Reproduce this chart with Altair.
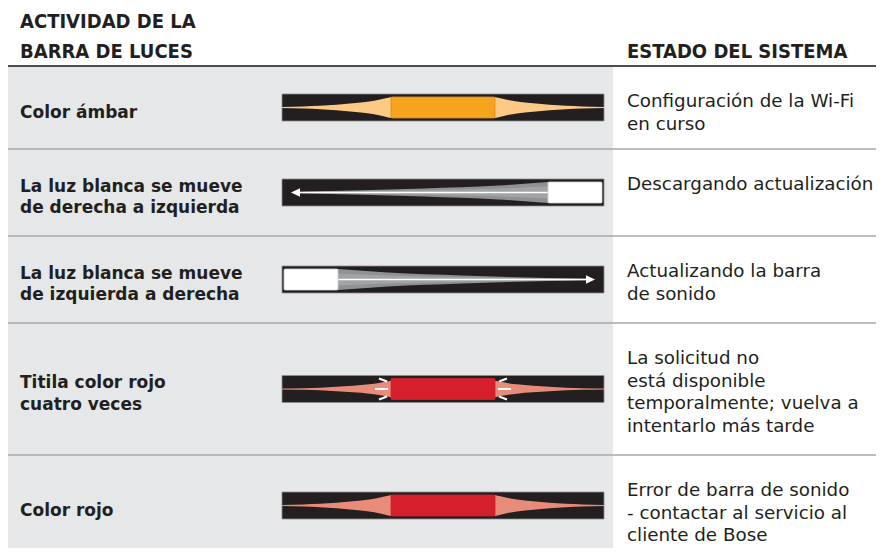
import altair as alt
import pandas as pd

# ---------------- content ----------------
header_left = ["ACTIVIDAD DE LA", "BARRA DE LUCES"]
header_right = ["ESTADO DEL SISTEMA"]
activities = [
    ["Color ámbar"],
    ["La luz blanca se mueve", "de derecha a izquierda"],
    ["La luz blanca se mueve", "de izquierda a derecha"],
    ["Titila color rojo", "cuatro veces"],
    ["Color rojo"],
]
states = [
    ["Configuración de la Wi-Fi", "en curso"],
    ["Descargando actualización"],
    ["Actualizando la barra", "de sonido"],
    ["La solicitud no", "está disponible", "temporalmente; vuelva a", "intentarlo más tarde"],
    ["Error de barra de sonido", "- contactar al servicio al", "cliente de Bose"],
]
patterns = ["glow", "sweep_left", "sweep_right", "blink", "glow"]
core_colors = ["#f6a31e", "#ffffff", "#ffffff", "#d51f2c", "#d51f2c"]
core_strokes = ["#e08c12", "#d0d0d0", "#d0d0d0", "#d51f2c", "#d51f2c"]
halo_colors = ["#fdca86", "#909194", "#909194", "#e98b79", "#e98b79"]
inner_halo_color = "#a2a3a5"

# ---------------- layout (pixels of the 884x556 picture) ----------------
X_LEFT, X_SPLIT, X_RIGHT = 7, 613, 876
Y_BOTTOM = 548
row_edges = [66, 149, 236, 323, 455, 556]
BAR_X0, BAR_X1, BAR_H = 282, 604, 27
CORE_X0, CORE_X1, CORE_H = 391, 495, 21
SWEEP_W = 54          # white block width
ARROW_GAP = 9         # distance from bar end to arrow tip
HEAD_LEN, HEAD_H = 9, 4.2
LABEL_X, STATE_X = 20, 627
LABEL_LH, STATE_LH = 21.5, 22.5

# halo profiles: fraction from outer end to core edge -> half height
glow_t = [0.0, 0.2, 0.35, 0.5, 0.65, 0.8, 0.89, 0.95, 1.0]
glow_h = [0.6, 1.1, 1.7, 2.8, 4.3, 6.0, 7.7, 9.2, 10.6]
blink_scale = 0.78
sweep_t = [0.0, 0.5, 0.8, 1.0]
sweep_h = [0.8, 4.0, 7.0, 10.5]
inner_h = [0.4, 2.2, 4.0, 6.0]

tick_offsets = [  # (dx_near, dy_near, dx_far, dy_far) relative to core edge/center, left side
    (-4, -7.5, -12, -10.5),
    (-3, 0, -16, 0),
    (-4, 7.5, -12, 10.5),
]

centers = [(row_edges[i] + row_edges[i + 1]) / 2 for i in range(5)]

# ---------------- build tables ----------------
bg = pd.DataFrame([{"x": X_LEFT, "x2": X_SPLIT, "y": row_edges[0], "y2": Y_BOTTOM}])
head_line = pd.DataFrame([{"x": X_LEFT, "x2": X_RIGHT, "y": row_edges[0], "y2": row_edges[0]}])
row_lines = pd.DataFrame([{"x": X_LEFT, "x2": X_RIGHT, "y": e, "y2": e} for e in row_edges[1:-1]])

frames, cores, halos, inner, heads, arrows, ticks = [], [], [], [], [], [], []
for i, (pat, c) in enumerate(zip(patterns, centers)):
    frames.append({"x": BAR_X0, "x2": BAR_X1, "y": c - BAR_H / 2, "y2": c + BAR_H / 2})
    if pat in ("glow", "blink"):
        cores.append({"x": CORE_X0, "x2": CORE_X1, "y": c - CORE_H / 2, "y2": c + CORE_H / 2,
                      "fill": core_colors[i], "stroke": core_strokes[i]})
        sc = blink_scale if pat == "blink" else 1.0
        for t, h in zip(glow_t, glow_h):
            xl = BAR_X0 + t * (CORE_X0 - BAR_X0)
            xr = BAR_X1 - t * (BAR_X1 - CORE_X1)
            halos.append({"x": xl, "y": c - h * sc, "y2": c + h * sc, "g": f"{i}L", "fill": halo_colors[i]})
            halos.append({"x": xr, "y": c - h * sc, "y2": c + h * sc, "g": f"{i}R", "fill": halo_colors[i]})
        if pat == "blink":
            for k, (dxn, dyn, dxf, dyf) in enumerate(tick_offsets):
                ticks.append({"x": CORE_X0 + dxn, "y": c + dyn, "x2": CORE_X0 + dxf, "y2": c + dyf})
                ticks.append({"x": CORE_X1 - dxn, "y": c + dyn, "x2": CORE_X1 - dxf, "y2": c + dyf})
    else:
        if pat == "sweep_left":
            bx0, bx1 = BAR_X1 - 2 - SWEEP_W, BAR_X1 - 2
            tip = BAR_X0 + ARROW_GAP
            base = tip + HEAD_LEN
            wedge_far, wedge_near = base, bx0
        else:
            bx0, bx1 = BAR_X0 + 2, BAR_X0 + 2 + SWEEP_W
            tip = BAR_X1 - ARROW_GAP
            base = tip - HEAD_LEN
            wedge_far, wedge_near = base, bx1
        cores.append({"x": bx0, "x2": bx1, "y": c - CORE_H / 2, "y2": c + CORE_H / 2,
                      "fill": core_colors[i], "stroke": core_strokes[i]})
        for t, h, hi in zip(sweep_t, sweep_h, inner_h):
            xx = wedge_far + t * (wedge_near - wedge_far)
            halos.append({"x": xx, "y": c - h, "y2": c + h, "g": f"{i}S", "fill": halo_colors[i]})
            inner.append({"x": xx, "y": c - hi, "y2": c + hi, "g": f"{i}I", "fill": inner_halo_color})
        arrows.append({"x": base, "x2": wedge_near, "y": c, "y2": c})
        heads.append({"x": tip, "y": c, "y2": c, "g": f"{i}H"})
        heads.append({"x": base, "y": c - HEAD_H, "y2": c + HEAD_H, "g": f"{i}H"})

texts_label, texts_state, texts_head = [], [], []
for i, lines in enumerate(activities):
    n = len(lines)
    for k, s in enumerate(lines):
        texts_label.append({"x": LABEL_X, "y": centers[i] + 10 + (k - (n - 1) / 2) * LABEL_LH, "t": s})
for i, lines in enumerate(states):
    for k, s in enumerate(lines):
        texts_state.append({"x": STATE_X, "y": row_edges[i] + 41 + k * STATE_LH, "t": s})
for k, s in enumerate(header_left):
    texts_head.append({"x": LABEL_X, "y": 28 + k * 29.5, "t": s})
for s in header_right:
    texts_head.append({"x": STATE_X, "y": 57.5, "t": s})

# ---------------- encodings ----------------
xs = alt.Scale(domain=[8, 876], nice=False, zero=False)
ys = alt.Scale(domain=[8, 548], nice=False, zero=False, reverse=True)
X = alt.X("x:Q", scale=xs, axis=None)
Y = alt.Y("y:Q", scale=ys, axis=None)
INK = "#231f20"

layers = []
layers.append(alt.Chart(bg).mark_rect(color="#e6e7e8", clip=True).encode(x=X, x2="x2:Q", y=Y, y2="y2:Q"))
layers.append(alt.Chart(row_lines).mark_rule(color="#a7a8aa", strokeWidth=1.6, clip=True)
              .encode(x=X, x2="x2:Q", y=Y, y2="y2:Q"))
layers.append(alt.Chart(head_line).mark_rule(color="#4d4d4f", strokeWidth=2, clip=True)
              .encode(x=X, x2="x2:Q", y=Y, y2="y2:Q"))
layers.append(alt.Chart(pd.DataFrame(frames)).mark_rect(color=INK, stroke="#8d8d8f", strokeWidth=0.8)
              .encode(x=X, x2="x2:Q", y=Y, y2="y2:Q"))
layers.append(alt.Chart(pd.DataFrame(halos)).mark_area(interpolate="monotone")
              .encode(x=X, y=Y, y2="y2:Q", detail="g:N", color=alt.Color("fill:N", scale=None)))
layers.append(alt.Chart(pd.DataFrame(inner)).mark_area(interpolate="monotone")
              .encode(x=X, y=Y, y2="y2:Q", detail="g:N", color=alt.Color("fill:N", scale=None)))
layers.append(alt.Chart(pd.DataFrame(arrows)).mark_rule(color="#ffffff", strokeWidth=1.5)
              .encode(x=X, x2="x2:Q", y=Y, y2="y2:Q"))
layers.append(alt.Chart(pd.DataFrame(heads)).mark_area(color="#ffffff")
              .encode(x=X, y=Y, y2="y2:Q", detail="g:N"))
layers.append(alt.Chart(pd.DataFrame(cores)).mark_rect(strokeWidth=0.8, cornerRadius=1)
              .encode(x=X, x2="x2:Q", y=Y, y2="y2:Q",
                      fill=alt.Fill("fill:N", scale=None), stroke=alt.Stroke("stroke:N", scale=None)))
layers.append(alt.Chart(pd.DataFrame(ticks)).mark_rule(color="#ffffff", strokeWidth=2)
              .encode(x=X, x2="x2:Q", y=Y, y2="y2:Q"))
layers.append(alt.Chart(pd.DataFrame(texts_head))
              .mark_text(align="left", baseline="alphabetic", font="DejaVu Sans Condensed, Roboto, sans-serif",
                         fontWeight="bold", fontSize=20, color=INK)
              .encode(x=X, y=Y, text="t:N"))
layers.append(alt.Chart(pd.DataFrame(texts_label))
              .mark_text(align="left", baseline="alphabetic", font="DejaVu Sans",
                         fontWeight="bold", fontSize=17, color=INK)
              .encode(x=X, y=Y, text="t:N"))
layers.append(alt.Chart(pd.DataFrame(texts_state))
              .mark_text(align="left", baseline="alphabetic", font="DejaVu Sans",
                         fontSize=18.3, color=INK)
              .encode(x=X, y=Y, text="t:N"))

chart = (alt.layer(*layers)
         .properties(width=868, height=540,
                     padding={"left": 0, "top": 0, "right": 0, "bottom": 0},
                     autosize=alt.AutoSizeParams(type="none"),
                     background="#ffffff")
         .configure_view(strokeWidth=0))

chart.save("out.html", embed_options={"renderer": "svg", "actions": False})
